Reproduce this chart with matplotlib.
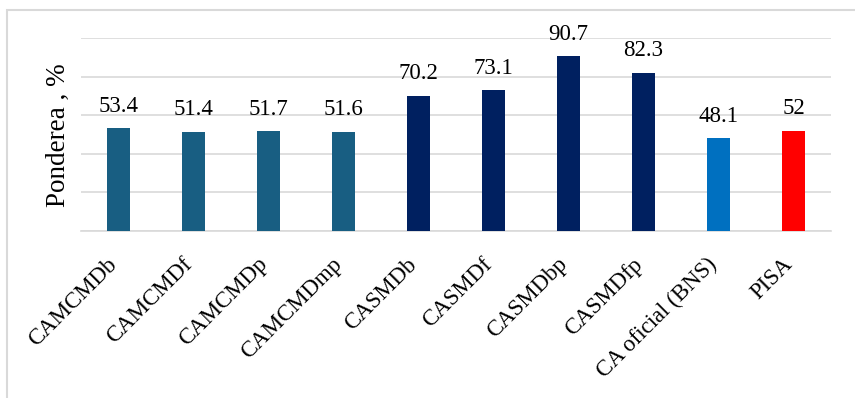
import matplotlib
matplotlib.use("Agg")
from matplotlib import pyplot as plt
from matplotlib.patches import Rectangle
from matplotlib.transforms import ScaledTranslation

plt.rcParams['font.family'] = ['Liberation Serif', 'DejaVu Serif']

categories = ['CAMCMDb', 'CAMCMDf', 'CAMCMDp', 'CAMCMDmp', 'CASMDb',
              'CASMDf', 'CASMDbp', 'CASMDfp', 'CA oficial (BNS)', 'PISA']
values = [53.4, 51.4, 51.7, 51.6, 70.2, 73.1, 90.7, 82.3, 48.1, 52]
labels = ['53.4', '51.4', '51.7', '51.6', '70.2', '73.1', '90.7', '82.3', '48.1', '52']
colors = ['#185E82'] * 4 + ['#002060'] * 4 + ['#0070C0', '#FF0000']

fig = plt.figure(figsize=(8.55, 3.98), dpi=100)
ax = fig.add_axes([0.0947, 0.4196, 0.8772, 0.4837])

x = range(len(categories))
bars = ax.bar(x, values, width=0.31, color=colors, zorder=3)

for b, lab in zip(bars, labels):
    ax.annotate(lab, (b.get_x() + b.get_width() / 2, b.get_height()),
                xytext=(0, 12), textcoords='offset points',
                ha='center', va='baseline', fontsize=16.5)

ax.set_xlim(-0.5, len(categories) - 0.5)
ax.set_ylim(0, 100)
ax.set_yticks([0, 20, 40, 60, 80, 100])
ax.set_yticklabels([])
ax.grid(axis='y', color='#D9D9D9', linewidth=1.2, zorder=0)
ax.tick_params(length=0)
for s in ['top', 'right', 'left']:
    ax.spines[s].set_visible(False)
ax.spines['bottom'].set_color('#D9D9D9')
ax.spines['bottom'].set_linewidth(1.2)

ax.set_xticks(list(x))
ax.set_xticklabels(categories, rotation=45, ha='right', va='top',
                   rotation_mode='anchor', fontsize=16.5)
shift = ScaledTranslation(-8.5 / 72, -13 / 72, fig.dpi_scale_trans)
for t in ax.get_xticklabels():
    t.set_transform(t.get_transform() + shift)

ax.set_ylabel('Ponderea , %', fontsize=19.5, labelpad=4)

# outer chart border
fig.patches.append(Rectangle((7 / 855, -0.1), 1.1, 1.1 - 10 / 398,
                             transform=fig.transFigure, fill=False,
                             edgecolor='#D9D9D9', linewidth=1.5))

fig.savefig('out.png', dpi=100)
